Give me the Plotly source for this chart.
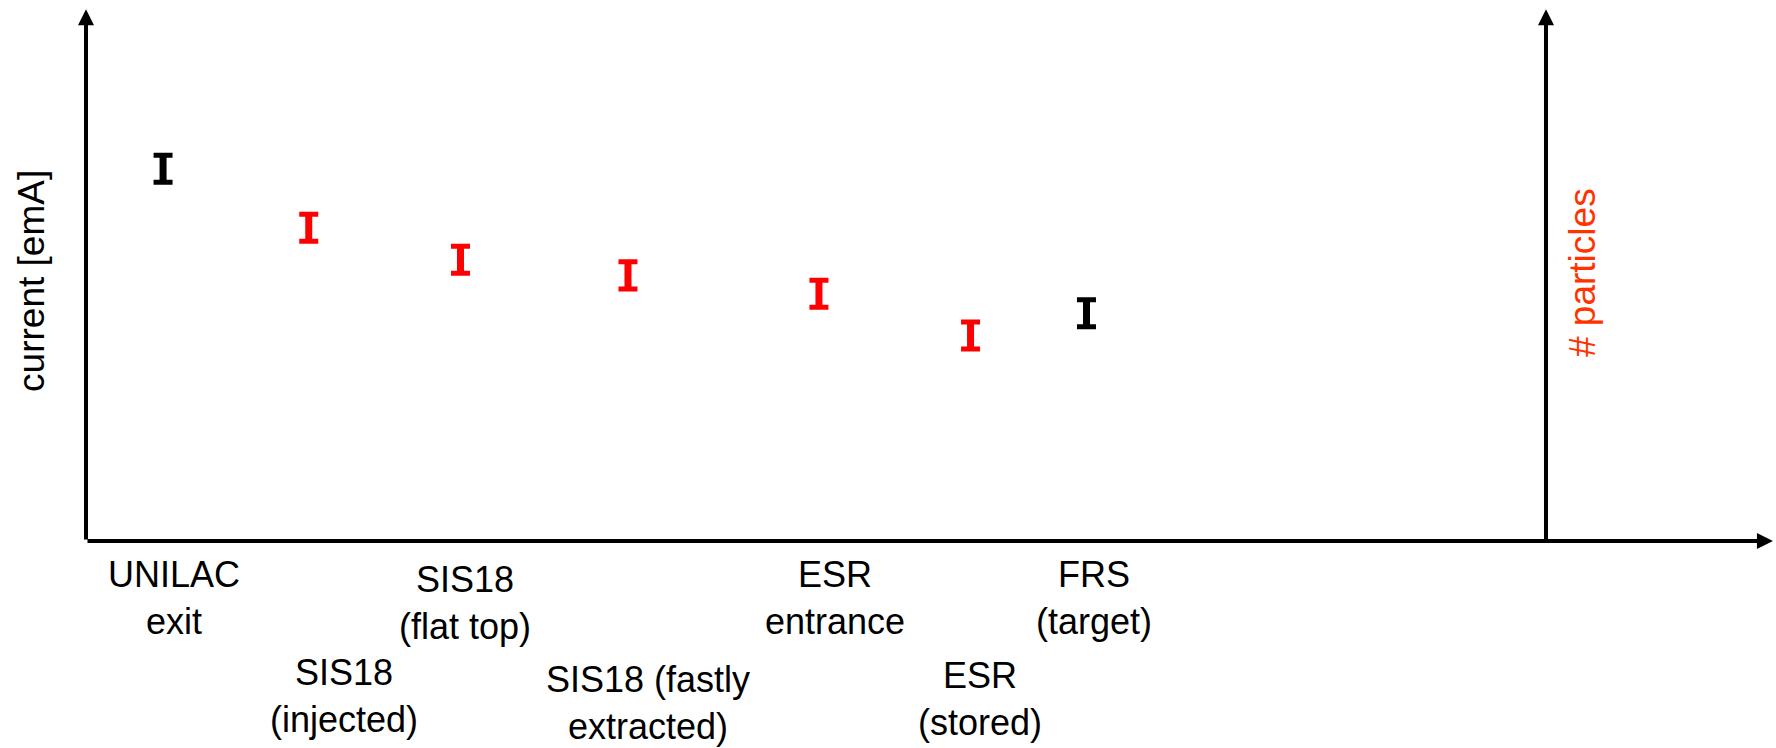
import plotly.graph_objects as go

# ---- data ----
stations = ["UNILAC<br>exit", "SIS18<br>(injected)", "SIS18<br>(flat top)",
            "SIS18 (fastly<br>extracted)", "ESR<br>entrance", "ESR<br>(stored)",
            "FRS<br>(target)"]
positions = [4.56, 13.18, 22.16, 32.07, 43.37, 52.34, 59.20]
current = [6.88, 5.79, 5.20, 4.91, 4.57, 3.80, 4.21]
uncertainty = [0.25, 0.25, 0.25, 0.25, 0.25, 0.25, 0.25]
kind = ["current", "particles", "particles", "particles", "particles", "particles", "current"]

# label layout (x in data units, y in paper units)
label_x = [5.21, 15.27, 22.43, 33.25, 44.32, 52.90, 59.64]
label_y = [-0.105, -0.287, -0.114, -0.300, -0.105, -0.292, -0.105]

FONT = "Liberation Sans, Arial, sans-serif"
RED = "#ff0000"

fig = go.Figure()

for k, col in [("current", "black"), ("particles", RED)]:
    xs = [p for p, t in zip(positions, kind) if t == k]
    ys = [c for c, t in zip(current, kind) if t == k]
    es = [e for e, t in zip(uncertainty, kind) if t == k]
    # caps
    fig.add_trace(go.Scatter(
        x=xs, y=ys, mode="markers", marker=dict(size=1, opacity=0),
        error_y=dict(type="data", array=es, color=col, thickness=5, width=9.5),
        showlegend=False, hoverinfo="skip"))
    # thicker stems
    fig.add_trace(go.Scatter(
        x=xs, y=ys, mode="markers", marker=dict(size=1, opacity=0),
        error_y=dict(type="data", array=es, color=col, thickness=7, width=0),
        showlegend=False, hoverinfo="skip"))

annotations = []
# axes with arrowheads
x_tip, y_tip, right_x = 99.82, 9.83, 86.39
for (x0, y0, x1, y1) in [(0, 0, 0, y_tip), (0, 0, x_tip, 0), (right_x, 0, right_x, y_tip)]:
    annotations.append(dict(x=x1, y=y1, ax=x0, ay=y0, xref="x", yref="y",
                            axref="x", ayref="y", showarrow=True, arrowhead=2,
                            arrowsize=0.8, arrowwidth=4, arrowcolor="black", text=""))

for s, lx, ly in zip(stations, label_x, label_y):
    annotations.append(dict(x=lx, y=ly, xref="x", yref="paper", text=s,
                            showarrow=False, xanchor="center", yanchor="middle",
                            font=dict(family=FONT, size=36, color="black")))

annotations.append(dict(x=-0.0320, y=0.4806, xref="paper", yref="paper",
                        text="current [emA]", textangle=-90, showarrow=False,
                        xanchor="center", yanchor="middle",
                        font=dict(family=FONT, size=37, color="black")))
annotations.append(dict(x=0.8858, y=0.4954, xref="paper", yref="paper",
                        text="# particles", textangle=-90, showarrow=False,
                        xanchor="center", yanchor="middle",
                        font=dict(family=FONT, size=37, color="#ff3300")))

fig.update_layout(
    width=1776, height=748,
    margin=dict(l=86, r=0, t=0, b=207, pad=0),
    paper_bgcolor="white", plot_bgcolor="white",
    xaxis=dict(range=[0, 100], visible=False, fixedrange=True),
    yaxis=dict(range=[0, 10], visible=False, fixedrange=True),
    annotations=annotations,
    showlegend=False,
)

fig.write_html("out.html", config={"displayModeBar": False},
               post_script="document.body.style.margin='0';")
